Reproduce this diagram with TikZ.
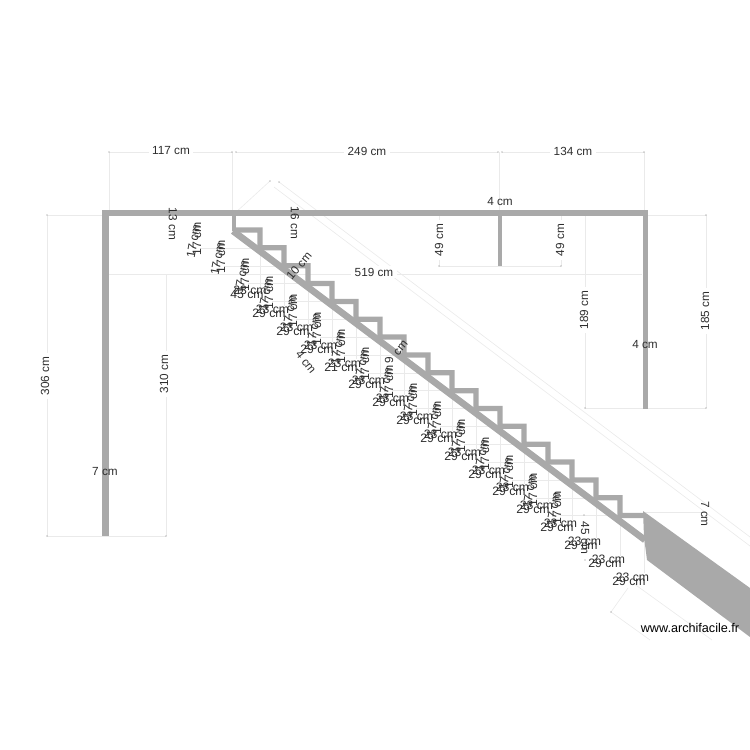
\documentclass[tikz,border=0pt]{standalone}
\usepackage{fontspec}
\setmainfont{Liberation Sans}
\definecolor{wallgrey}{HTML}{A9A9A9}
\definecolor{dimgrey}{HTML}{EAEAEA}
\definecolor{textgrey}{HTML}{2E2E2E}
\tikzset{
	wallline/.style={draw=wallgrey, line cap=butt},
	dimline/.style={draw=dimgrey, line width=.35pt},
	dimtext/.style={text=textgrey, inner sep=1pt, font=\fontsize{6.7}{8}\selectfont},
	dimfill/.style={dimtext, fill=white, inner xsep=2pt},
	steptext/.style={dimtext, font=\fontsize{6.95}{8}\selectfont},
	enddot/.style={fill=gray},
}
\begin{document}
\begin{tikzpicture}[x=.02cm, y=-.02cm]
	\useasboundingbox (0,0) rectangle (750,750);
	% dimension lines
	\draw[dimline] (110,152) -- (232,152);
	\draw[dimline] (236,152) -- (498,152);
	\draw[dimline] (502,152) -- (644,152);
	\draw[dimline] (109,152) -- (109,212);
	\draw[dimline] (232,152) -- (232,212);
	\draw[dimline] (499,152) -- (499,212);
	\draw[dimline] (644,152) -- (644,212);
	\draw[dimline] (47,215) -- (103,215);
	\draw[dimline] (645,215) -- (706,215);
	\draw[dimline] (47,215) -- (47,536);
	\draw[dimline] (47,536) -- (166,536);
	\draw[dimline] (166,275) -- (166,536);
	\draw[dimline] (108,274) -- (642,274);
	\draw[dimline] (439,215) -- (439,266);
	\draw[dimline] (561,215) -- (561,266);
	\draw[dimline] (439,266) -- (561,266);
	\draw[dimline] (585,215) -- (585,408);
	\draw[dimline] (706,215) -- (706,408);
	\draw[dimline] (585,408) -- (706,408);
	\draw[dimline] (645,512) -- (706,512);
	\draw[dimline] (279,182) -- (750,537);
	\draw[dimline] (274,187) -- (750,546);
	\draw[dimline] (270,181) -- (234,214);
	\draw[dimline] (628,588) -- (611,612);
	\draw[dimline] (611,612) -- (650,640);
	\draw[dimline] (633,583) -- (712,640);
	% step lines
	\foreach \k [evaluate=\k as \x using 260+24*\k, evaluate=\k as \y using 230+17.85*\k] in {0,...,15} {
		\draw[dimline] (\x,\y) -- (\x,\y+58);
		\draw[dimline] (\x-60,\y+18) -- (\x,\y+18);
	}
	\draw[dimline] (644,515) -- (644,573);
	% walls
	\draw[wallline, line width=3.2pt] (102,213) -- (648,213);
	\draw[wallline, line width=4pt] (105.5,211) -- (105.5,536);
	\draw[wallline, line width=3pt] (645.5,211) -- (645.5,409);
	\draw[wallline, line width=2.6pt] (500,213) -- (500,266);
	\draw[wallline, line width=2.4pt] (234,213) -- (234,231);
	% stairs
	\draw[wallline, line width=3pt, line join=miter] (233,230)
		\foreach \k [evaluate=\k as \x using 260+24*\k, evaluate=\k as \y using 230+17.85*\k, evaluate=\k as \v using 230+17.85*(\k+1)] in {0,...,15} { -- (\x,\y) -- (\x,\v) } -- (644,515.6);
	\draw[wallline, line width=3.8pt] (233,231) -- (645,540);
	\fill[wallgrey] (643,511) -- (750,588) -- (750,637) -- (647,560) -- (644,537) -- cycle;
	% end dots
	\foreach \px/\py in {109/152,232/152,236/152,498/152,502/152,644/152,47/215,706/215,47/536,166/536,706/408,585/408,439/266,561/266,270/181,279/182,611/612,584/515,585/560} {
		\fill[enddot] (\px,\py) circle (.3pt);
	}
	% labels
	\node[dimfill] (widthleft) at (171,151) {117 cm};
	\node[dimfill] (widthmid) at (367,151) {249 cm};
	\node[dimfill] (widthright) at (573,151) {134 cm};
	\node[dimtext] (partthick) at (500,202) {4 cm};
	\node[dimfill] (innerwidth) at (374,272) {519 cm};
	\node[dimfill, rotate=90] (heightleft) at (45,376) {306 cm};
	\node[dimfill, rotate=90] (heightinner) at (164,374) {310 cm};
	\node[dimfill, rotate=90] (heightright) at (705,311) {185 cm};
	\node[dimfill, rotate=90] (heightwall) at (584,310) {189 cm};
	\node[dimfill, rotate=90] (partleft) at (439,240) {49 cm};
	\node[dimfill, rotate=90] (partright) at (560,240) {49 cm};
	\node[dimtext, rotate=-90] (stubleft) at (173,224) {13 cm};
	\node[dimtext, rotate=-90] (stubright) at (295,223) {16 cm};
	\node[dimtext] (wallleft) at (105,472) {7 cm};
	\node[dimtext] (wallright) at (645,345) {4 cm};
	\node[dimtext, rotate=-90] (wedgethick) at (705,514) {7 cm};
	\node[dimtext, rotate=-90] (lowstep) at (585,538) {45 cm};
	\node[dimtext, rotate=-52] (lowtread) at (306,362) {4 cm};
	\node[dimtext, rotate=50] (uppertread) at (299,266) {10 cm};
	\node[dimtext, rotate=90] (midnine) at (389,360) {9};
	\node[dimtext, rotate=50] (midcm) at (401,348) {cm};
	\foreach \k [evaluate=\k as \x using 197+24*\k, evaluate=\k as \y using 239+17.9*\k] in {0,...,15} {
		\node[steptext, rotate=90] (riserA\k) at (\x,\y) {17 cm};
		\node[steptext, rotate=80] (riserB\k) at (\x-3.5,\y+2) {17 cm};
	}
	\foreach \k [evaluate=\k as \x using 629-24*\k, evaluate=\k as \y using 581-17.85*\k] in {0,...,15} {
		\node[steptext] (treadA\k) at (\x+3.5,\y-4) {23 cm};
		\ifnum\k=12
			\node[steptext] (treadB\k) at (\x,\y) {21 cm};
		\else
			\node[steptext] (treadB\k) at (\x,\y) {29 cm};
		\fi
	}
	\node[steptext] (firstA) at (250,290) {23 cm};
	\node[steptext] (firstB) at (247,294) {45 cm};
	\node[text=black, inner sep=0pt, font=\fontsize{7.2}{8}\selectfont] (site) at (690,628) {www.archifacile.fr};
\end{tikzpicture}
\end{document}
